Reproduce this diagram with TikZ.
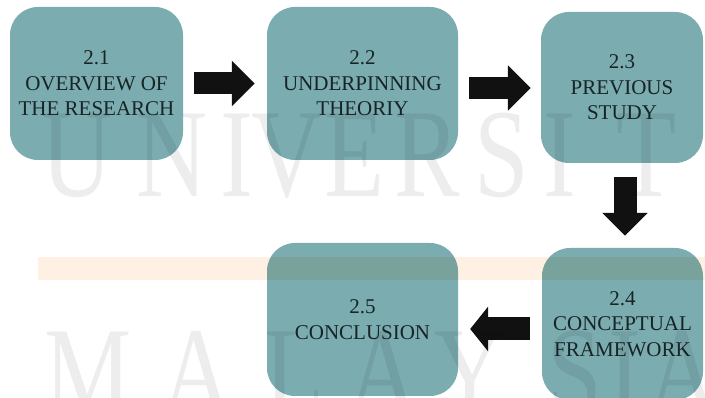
\documentclass[tikz,border=0pt]{standalone}
\usepackage{fontspec}
\setmainfont{Liberation Serif}
\usetikzlibrary{arrows.meta}
\definecolor{boxteal}{RGB}{122,172,176}
\definecolor{boxtext}{RGB}{24,36,38}
\definecolor{arrowblk}{RGB}{17,17,17}
\definecolor{bandpeach}{RGB}{254,241,228}

\begin{document}
\begin{tikzpicture}[x=1pt,y=-1pt,
  stage/.style={fill=boxteal, rounded corners=28pt, inner sep=0pt, align=center,
    text=boxtext, font=\fontsize{21}{25.5}\selectfont},
  fatarrow/.style={draw=arrowblk, line width=22pt, arrowblk,
    -{Triangle[length=23pt,width=44pt]}},
  wm/.style={text=black, opacity=0.07, inner sep=0pt, anchor=base,
    font=\fontsize{126}{126}\selectfont}]

\useasboundingbox (0,0) rectangle (705,398);
\clip (0,0) rectangle (705,398);
\fill[white] (0,0) rectangle (705,398);

% stages of the chapter
\node[stage, minimum width=173pt, minimum height=153pt] (b1) at (96.5,83.5)
  {2.1\\OVERVIEW OF\\THE RESEARCH};
\node[stage, minimum width=191pt, minimum height=153pt] (b2) at (362.5,83.5)
  {2.2\\UNDERPINNING\\THEORIY};
\node[stage, minimum width=162pt, minimum height=151pt] (b3) at (622,87.5)
  {2.3\\PREVIOUS\\STUDY};
\node[stage, minimum width=161pt, minimum height=152pt] (b4) at (622.5,324)
  {2.4\\CONCEPTUAL\\FRAMEWORK};
\node[stage, minimum width=191pt, minimum height=153pt] (b5) at (362.5,319.5)
  {2.5\\CONCLUSION};

% block arrows between the stages
\coordinate (r2) at (0,88);
\coordinate (d3) at (625,0);
\coordinate (r4) at (0,329);
\draw[fatarrow, shorten <=11pt, shorten >=12pt] (b1.east) -- (b2.west);
\draw[fatarrow, shorten <=11pt, shorten >=10pt] (b2.east |- r2) -- (b3.west |- r2);
\draw[fatarrow, line width=23pt, shorten <=14pt, shorten >=12pt] (b3.south -| d3) -- (b4.north -| d3);
\draw[fatarrow, line width=23pt, -{Triangle[length=18pt,width=44pt]},
  shorten <=12pt, shorten >=12pt] (b4.west |- r4) -- (b5.east |- r4);

% pale band behind the lower row
\begin{scope}[blend mode=multiply]
  \fill[bandpeach] (38,257) rectangle (705,280);
\end{scope}

% faint lettering across the page
\foreach \ch/\cx [count=\i] in {U/77,N/172,I/237,V/287,E/355,R/427,S/502,I/560,T/647,I/720}
  \node[wm] (wt\i) at (\cx,197) {\scalebox{0.78}[1]{\ch}};
\foreach \ch/\cx [count=\i] in {M/88,A/197,L/295,A/383,Y/470,S/575,I/625,A/683}
  \node[wm] (wb\i) at (\cx,414) {\scalebox{0.78}[1]{\ch}};
\end{tikzpicture}
\end{document}
